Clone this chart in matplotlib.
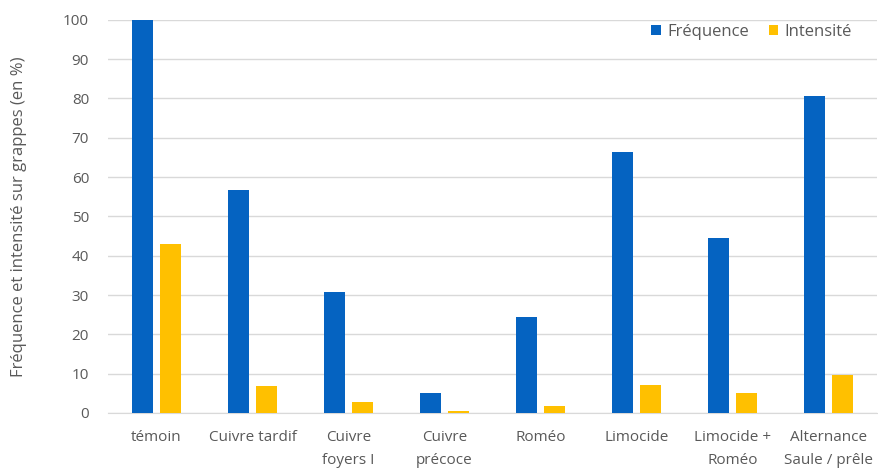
import matplotlib.pyplot as plt
import numpy as np

categories = ["témoin", "Cuivre tardif", "Cuivre\nfoyers I", "Cuivre\nprécoce",
              "Roméo", "Limocide", "Limocide +\nRoméo", "Alternance\nSaule / prêle"]
frequence = [100, 56.6, 30.7, 5.2, 24.5, 66.5, 44.5, 80.5]
intensite = [43, 6.8, 2.8, 0.5, 1.8, 7.2, 5.0, 9.7]

plt.rcParams['font.family'] = ['Open Sans', 'DejaVu Sans']
grey = "#595959"

fig = plt.figure(figsize=(8.79, 4.72), dpi=100)
ax = fig.add_axes([0.1234, 0.125, 0.874, 0.833])

x = np.arange(len(categories))
ax.bar(x - 0.146, frequence, 0.22, color="#0563C1", label="Fréquence", zorder=3)
ax.bar(x + 0.146, intensite, 0.22, color="#FFC000", label="Intensité", zorder=3)

ax.set_xlim(-0.5, len(categories) - 0.5)
ax.set_ylim(0, 100)
ax.set_yticks(range(0, 101, 10))
ax.set_xticks(x, categories, linespacing=1.8)
ax.yaxis.grid(True, color="#d9d9d9", linewidth=1, zorder=0)
for s in ax.spines.values():
    s.set_visible(False)
ax.spines["bottom"].set_visible(True)
ax.spines["bottom"].set_color("#d9d9d9")
ax.tick_params(length=0, colors=grey, labelsize=11)
ax.tick_params(axis="y", pad=14)
ax.tick_params(axis="x", pad=12)
ax.set_ylabel("Fréquence et intensité sur grappes (en %)", color=grey, fontsize=12, labelpad=26)

ax.legend(loc="upper right", bbox_to_anchor=(0.968, 0.99), ncol=2, frameon=False,
          borderpad=0, borderaxespad=0,
          fontsize=12, labelcolor=grey, handlelength=0.55, handleheight=0.55,
          columnspacing=1.2, handletextpad=0.4)

plt.savefig("out.png")
